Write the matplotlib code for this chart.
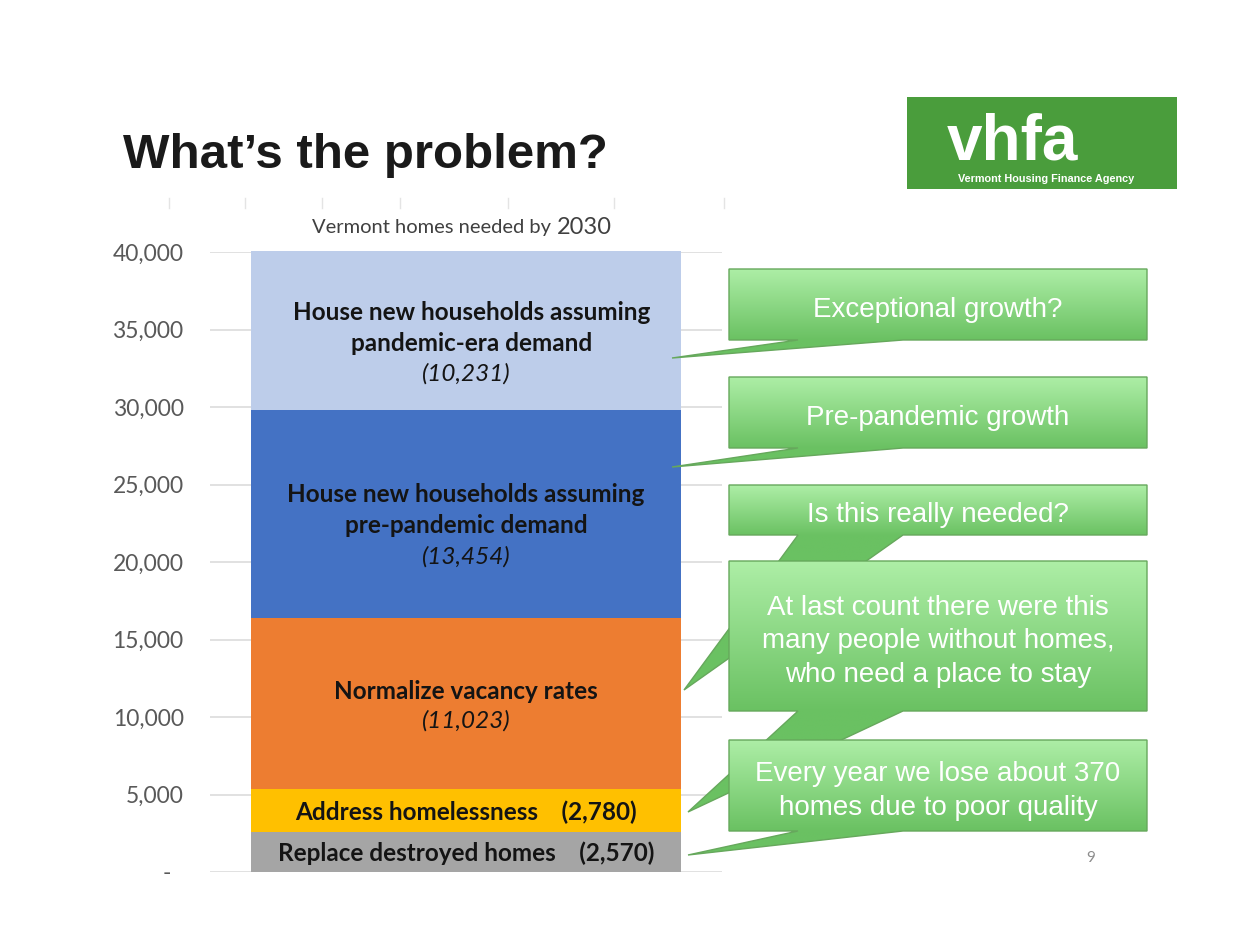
import matplotlib
matplotlib.use("Agg")
import matplotlib.pyplot as plt
import numpy as np
from matplotlib.patches import Rectangle, PathPatch
from matplotlib.path import Path
from matplotlib.ticker import FixedLocator, FuncFormatter

# ---------------- data ----------------
categories = ["Replace destroyed homes", "Address homelessness", "Normalize vacancy rates",
              "House new households assuming\npre-pandemic demand",
              "House new households assuming\npandemic-era demand"]
values = [2570, 2780, 11023, 13454, 10231]
seg_colors = ["#A5A5A5", "#FFC000", "#ED7D31", "#4472C4", "#BDCDEA"]
inline_value = [True, True, False, False, False]
yticks = [0, 5000, 10000, 15000, 20000, 25000, 30000, 35000, 40000]
chart_title = "Vermont homes needed by"
chart_year = "2030"
slide_title = "What\u2019s the problem?"
callout_texts = ["Exceptional growth?",
                 "Pre-pandemic growth",
                 "Is this really needed?",
                 "At last count there were this\nmany people without homes,\nwho need a place to stay",
                 "Every year we lose about 370\nhomes due to poor quality"]
logo_big = "vhfa"
logo_small = "Vermont Housing Finance Agency"
page_no = "9"

# ---------------- layout / style ----------------
W, H = 1260, 952
FONT = "Lato"
BAR_FS = 17.5
# per-segment label offsets in pixels (dx, name_dy, value_dy) ; positive dy = downward
label_offsets = [(0, 1, 0), (0, 2, 0), (0, -12.5, 17.5), (0, -4, 43), (6, -2.5, 43)]
# callout boxes (x0, y0, x1, y1) and pointer tips, in slide pixels (y downward)
callout_boxes = [(729, 269, 1147, 340), (729, 377, 1147, 448), (729, 485, 1147, 535),
                 (729, 561, 1147, 711), (729, 740, 1147, 831)]
callout_tips = [(672, 358), (672, 467), (684, 690), (688, 812), (688, 855)]
pointer_base = (798, 903)

fig = plt.figure(figsize=(W / 100, H / 100), dpi=100)
fig.patch.set_facecolor("white")

# ---------------- main chart ----------------
ax = fig.add_axes([210 / W, (H - 872) / H, 512 / W, 620 / H], zorder=1)
ax.set_xlim(-0.5, 0.5)
ax.set_ylim(0, 40000)
bar_w = 430 / 512
bottoms = np.concatenate([[0], np.cumsum(values)[:-1]])
ax.bar([0] * len(values), values, bottom=bottoms, width=bar_w, color=seg_colors,
       linewidth=0, zorder=2, clip_on=False)
for s in ax.spines.values():
    s.set_visible(False)
ax.yaxis.set_major_locator(FixedLocator(yticks))
ax.yaxis.set_major_formatter(FuncFormatter(lambda v, p: "-  " if v == 0 else f"{int(v):,}"))
ax.tick_params(axis="y", length=0, pad=19, labelsize=16.5, labelcolor="#595959")
for lab in ax.get_yticklabels():
    lab.set_fontfamily(FONT)
ax.set_xticks([])
ax.grid(axis="y", color="#DCDCDC", linewidth=1.2, zorder=0)
ax.set_axisbelow(True)

PX = 0.72  # points per pixel at dpi 100
for i, (name, val) in enumerate(zip(categories, values)):
    mid = bottoms[i] + val / 2
    dx, ndy, vdy = label_offsets[i]
    if inline_value[i]:
        ax.annotate(f"{name}    ({val:,})", xy=(0, mid), xytext=(dx * PX, -ndy * PX),
                    textcoords="offset points", ha="center", va="center",
                    fontsize=BAR_FS, fontweight="bold", family=FONT, color="#141414", zorder=3)
    else:
        ax.annotate(name, xy=(0, mid), xytext=(dx * PX, -ndy * PX),
                    textcoords="offset points", ha="center", va="center",
                    fontsize=BAR_FS, fontweight="bold", family=FONT, color="#141414",
                    linespacing=1.42, zorder=3)
        ax.annotate(f"({val:,})", xy=(0, mid), xytext=(0, -vdy * PX),
                    textcoords="offset points", ha="center", va="center",
                    fontsize=BAR_FS, fontstyle="italic", family=FONT, color="#141414", zorder=3)

# ---------------- overlay (slide) ----------------
ov = fig.add_axes([0, 0, 1, 1], zorder=5)
ov.patch.set_alpha(0)
ov.axis("off")

# faint stray ticks above the chart
for xt in [169, 245, 322, 400, 508, 614, 724]:
    ov.plot([xt, xt], [198, 208], color="#E4E4E4", lw=1)

# chart title (two parts)
ov.text(312, 228, chart_title, fontsize=14.5, family=FONT, color="#404040",
        ha="left", va="center")
ov.text(557, 227, chart_year, fontsize=17, family=FONT, color="#404040",
        ha="left", va="center")

# slide title
ov.text(123, 168, slide_title, fontsize=35.5, fontweight="bold", family="Liberation Sans",
        color="#1A1A1A", ha="left", va="baseline")

# logo
ov.add_patch(Rectangle((907, 97), 270, 92, facecolor="#4A9D3C", edgecolor="none"))
ov.text(1012, 160, logo_big, fontsize=46, fontweight="bold", family="Liberation Sans",
        color="white", ha="center", va="baseline")
ov.text(1046, 179, logo_small, fontsize=7.8, fontweight="bold", family="Liberation Sans",
        color="white", ha="center", va="center")

# page number
ov.text(1091, 858, page_no, fontsize=11, family=FONT, color="#8C8C8C", ha="center", va="center")

# callouts
top_c = np.array([0xAD, 0xEE, 0xA6]) / 255
bot_c = np.array([0x6A, 0xC1, 0x62]) / 255
for k, (txt, (x0, y0, x1, y1), (tx, ty)) in enumerate(zip(callout_texts, callout_boxes, callout_tips)):
    bx0, bx1 = pointer_base
    verts = [(x0, y0), (x1, y0), (x1, y1), (bx1, y1), (tx, ty), (bx0, y1), (x0, y1), (x0, y0)]
    codes = [Path.MOVETO] + [Path.LINETO] * 6 + [Path.CLOSEPOLY]
    path = Path(verts, codes)
    z = 10 + k * 3
    xmin, xmax = min(x0, tx) - 2, x1 + 2
    ymin, ymax = y0 - 2, max(y1, ty) + 2
    ys = np.linspace(ymin, ymax, 200)
    t = np.clip((ys - y0) / (y1 - y0), 0, 1)[:, None]
    grad = top_c[None, :] * (1 - t) + bot_c[None, :] * t
    img = np.repeat(grad[:, None, :], 4, axis=1)
    im = ov.imshow(img, extent=(xmin, xmax, ymax, ymin), origin="upper", aspect="auto",
                   zorder=z, interpolation="bilinear")
    clip = PathPatch(path, facecolor="none", edgecolor="none", transform=ov.transData)
    ov.add_patch(clip)
    im.set_clip_path(clip)
    ov.add_patch(PathPatch(path, facecolor="none", edgecolor="#66A85C", lw=1.0, zorder=z + 1))
    ov.text((x0 + x1) / 2, (y0 + y1) / 2 + 5.5, txt, fontsize=20, family="Liberation Sans",
            color="white", ha="center", va="center", linespacing=1.38, zorder=z + 2)

ov.set_xlim(0, W)
ov.set_ylim(H, 0)

fig.savefig("out.png", dpi=100, facecolor="white")
